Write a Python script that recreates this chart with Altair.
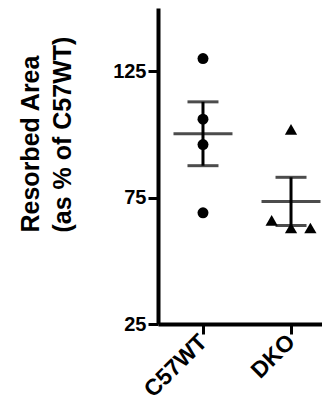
import altair as alt
import pandas as pd

groups = ["C57WT", "DKO"]
c57wt_values = [130, 106, 96, 69]
dko_values = [102, 66, 63, 63]
c57wt_jitter = [0, 0, 0, 0]
dko_jitter = [0, -0.22, 0, 0.22]
y_ticks = [25, 75, 125]
shapes = ["circle", "triangle-up"]

rows = []
for i, (g, vals, jit) in enumerate(zip(groups, [c57wt_values, dko_values], [c57wt_jitter, dko_jitter])):
    for v, j in zip(vals, jit):
        rows.append({"group": g, "idx": i + 1, "xpos": i + 1 + j, "value": v})
df = pd.DataFrame(rows)

FONT = "Liberation Sans"
label_expr = " : ".join(f"datum.value == {i+1} ? '{g}'" for i, g in enumerate(groups)) + " : ''"

xscale = alt.Scale(domain=[0.489, 2.352], nice=False, zero=False)
yscale = alt.Scale(domain=[25, 150], nice=False, zero=False)

x_axis = alt.Axis(values=[1, 2], labelExpr=label_expr, labelAngle=315, labelAlign="right",
                  labelBaseline="middle", labelFontSize=23, labelFontWeight="bold", labelFont=FONT,
                  labelColor="black", tickSize=10, tickWidth=3, tickColor="black",
                  domainWidth=4, domainColor="black", grid=False, title=None,
                  labelPadding=4, labelFlush=False, labelOverlap=False)
y_axis = alt.Axis(values=y_ticks, labelFontSize=20, labelFontWeight="bold", labelFont=FONT,
                  labelColor="black", tickSize=10, tickWidth=3, tickColor="black",
                  domainWidth=4, domainColor="black", grid=False, labelPadding=2,
                  title=["Resorbed Area", "(as % of C57WT)"], titleFont=FONT, titleFontSize=25,
                  titleFontWeight="bold", titleColor="black", titleAngle=270, titleAlign="left",
                  titleBaseline="alphabetic", titleX=-120, titleY=224, titleLineHeight=32)

base = alt.Chart(df)

points = base.mark_point(filled=True, color="black", opacity=1).encode(
    x=alt.X("xpos:Q", scale=xscale, axis=x_axis),
    y=alt.Y("value:Q", scale=yscale, axis=y_axis),
    shape=alt.Shape("group:N", scale=alt.Scale(domain=groups, range=shapes), legend=None),
    size=alt.Size("group:N", scale=alt.Scale(domain=groups, range=[120, 150]), legend=None),
)

stats = base.transform_aggregate(
    mean="mean(value)", sem="stderr(value)", groupby=["group", "idx"]
).transform_calculate(lo="datum.mean - datum.sem", hi="datum.mean + datum.sem")

mean_tick = stats.mark_tick(orient="horizontal", size=59, thickness=3, color="black").encode(
    x=alt.X("idx:Q", scale=xscale), y=alt.Y("mean:Q", scale=yscale))
sem_rule = stats.mark_rule(strokeWidth=3, color="black").encode(
    x=alt.X("idx:Q", scale=xscale), y=alt.Y("lo:Q", scale=yscale), y2="hi:Q")
caps = stats.transform_fold(["lo", "hi"], as_=["k", "v"]).mark_tick(
    orient="horizontal", size=31, thickness=3, color="black").encode(
    x=alt.X("idx:Q", scale=xscale), y=alt.Y("v:Q", scale=yscale))

chart = alt.layer(points, sem_rule, caps, mean_tick).properties(
    width=164, height=316,
    padding={"left": 158, "top": 8, "right": 0, "bottom": 81},
    autosize="none", background="white",
).configure_view(stroke=None)

chart.save("out.html", embed_options={"renderer": "svg", "actions": False})
